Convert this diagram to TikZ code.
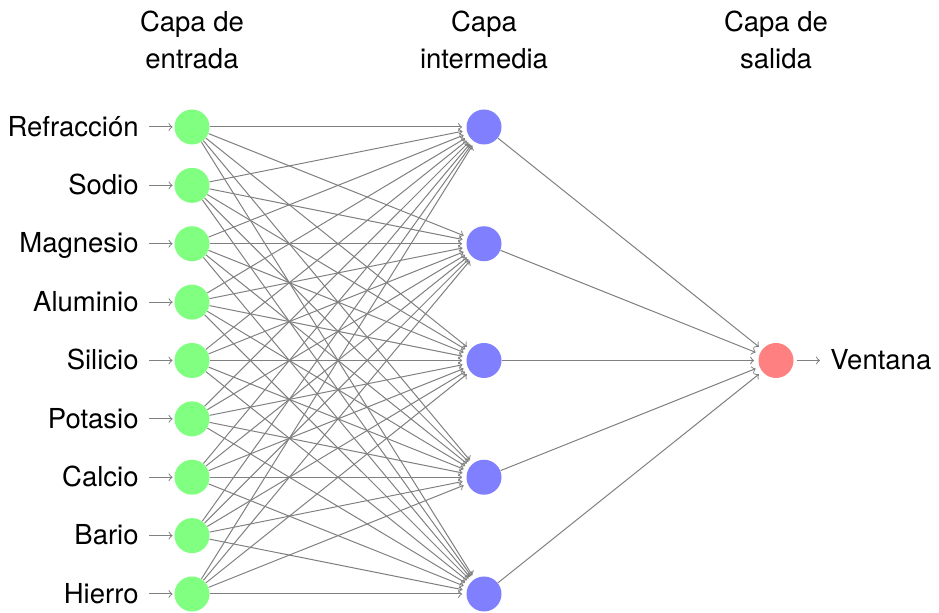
\documentclass[tikz,border=0pt]{standalone}
\usepackage{fontspec}
\setmainfont{TeX Gyre Heros}
\begin{document}
\begin{tikzpicture}[x=0.5pt,y=-0.5pt,
  neuron/.style={circle,minimum size=17.5pt,inner sep=0pt,draw=none},
  inneuron/.style={neuron,fill=green!50},
  hidneuron/.style={neuron,fill=blue!50},
  outneuron/.style={neuron,fill=red!50},
  conn/.style={draw=black!50,line width=0.5pt,->,shorten >=2pt},
  lbl/.style={font=\fontsize{13.75}{18.5}\selectfont,inner sep=0pt,text height=0.72em+2pt,text depth=0pt},
  ttl/.style={font=\fontsize{13.75}{18.5}\selectfont,inner sep=0pt,align=center,anchor=north},
  ]
\useasboundingbox (0,0) rectangle (939,613);
% titles
\node[ttl] (T1) at (192,11) {Capa de\\entrada};
\node[ttl] (T2) at (484,11) {Capa\\intermedia};
\node[ttl] (T3) at (776,11) {Capa de\\salida};
% input layer
\foreach \name [count=\i] in {Refracción,Sodio,Magnesio,Aluminio,Silicio,Potasio,Calcio,Bario,Hierro}{
  \node[inneuron] (I-\i) at (192,{127+(\i-1)*58.375}) {};
  \node[lbl,anchor=east] (L-\i) at (139,{127+(\i-1)*58.375}) {\name};
  \draw[conn,shorten <=5pt,shorten >=0.75pt] (L-\i) -- (I-\i);
}
% hidden layer
\foreach \j in {1,...,5}
  \node[hidneuron] (H-\j) at (484,{127+(\j-1)*116.75}) {};
% output layer
\node[outneuron] (O) at (776,360.5) {};
\node[lbl,anchor=west] (V) at (830,360.5) {Ventana};
\draw[conn,shorten <=1.75pt,shorten >=5pt] (O) -- (V);
% connections
\foreach \i in {1,...,9}
  \foreach \j in {1,...,5}
    \draw[conn] (I-\i) -- (H-\j);
\foreach \j in {1,...,5}
  \draw[conn] (H-\j) -- (O);
\end{tikzpicture}
\end{document}
